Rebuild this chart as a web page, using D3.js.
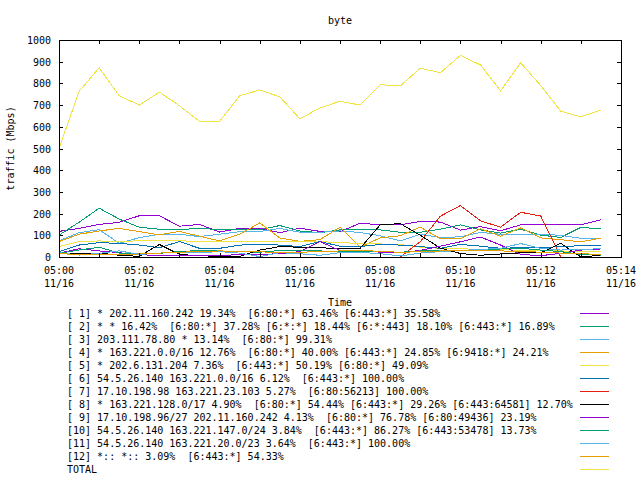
<!DOCTYPE html>
<html>
<head>
<meta charset="utf-8">
<script src="https://cdn.jsdelivr.net/npm/d3@7"></script>
<style>
body { margin: 0; background: #fff; }
text { font-family: "DejaVu Sans Mono", monospace; font-size: 10px; fill: #000; }
</style>
</head>
<body>
<script>
// sample times (every 30 s)
var times = ["05:00:00","05:00:30","05:01:00","05:01:30","05:02:00","05:02:30","05:03:00",
             "05:03:30","05:04:00","05:04:30","05:05:00","05:05:30","05:06:00","05:06:30",
             "05:07:00","05:07:30","05:08:00","05:08:30","05:09:00","05:09:30","05:10:00",
             "05:10:30","05:11:00","05:11:30","05:12:00","05:12:30","05:13:00","05:13:30"];

var s1  = [118,132,150,160,190,190,142,150,115,132,132,112,133,118,116,156,148,148,164,161,124,140,121,148,148,148,148,172];
var s2  = [101,160,225,175,137,128,128,130,128,128,126,145,120,112,125,128,125,114,114,128,148,125,110,128,101,90,137,129];
var s3  = [75,112,126,63,89,105,105,94,105,117,117,132,114,114,120,113,98,74,105,90,93,113,105,105,105,100,86,86];
var s4  = [71,105,120,132,117,102,118,96,74,105,157,88,72,80,137,46,88,98,138,84,84,130,96,134,88,80,70,87];
var s5  = [48,71,74,71,75,78,75,71,71,70,70,71,72,71,66,63,60,58,45,40,38,35,35,30,30,28,25,25];
var s6  = [25,55,66,63,55,43,71,40,40,55,58,55,48,71,50,48,58,55,48,40,58,50,40,43,43,48,52,55];
var s7  = [0,0,0,0,0,0,0,0,0,0,0,0,0,0,0,0,0,0,71,188,237,167,137,206,189,0,0,0];
var s8  = [18,15,18,8,3,58,12,5,4,3,32,48,45,43,38,40,148,154,100,41,16,8,14,19,19,63,0,8];
var s9  = [18,38,28,20,10,8,5,5,8,10,12,15,25,71,30,30,22,20,30,50,70,92,55,12,6,17,32,37];
var s10 = [17,32,45,18,12,17,25,30,28,25,22,30,32,28,25,24,25,22,28,30,32,32,37,40,32,25,12,9];
var s11 = [20,9,17,28,12,18,22,20,25,18,2,20,15,8,20,22,15,5,18,25,30,35,40,62,40,32,35,38];
var s12 = [15,12,10,12,14,18,22,25,28,26,24,20,22,25,28,32,25,22,24,28,30,30,28,26,22,18,15,12];
var total = [500,763,872,743,700,760,697,625,625,743,770,738,637,687,718,700,794,788,870,849,929,885,766,895,790,672,646,677];

var labels = [
  "[ 1] * 202.11.160.242 19.34%  [6:80:*] 63.46% [6:443:*] 35.58%",
  "[ 2] * * 16.42%  [6:80:*] 37.28% [6:*:*] 18.44% [6:*:443] 18.10% [6:443:*] 16.89%",
  "[ 3] 203.111.78.80 * 13.14%  [6:80:*] 99.31%",
  "[ 4] * 163.221.0.0/16 12.76%  [6:80:*] 40.00% [6:443:*] 24.85% [6:9418:*] 24.21%",
  "[ 5] * 202.6.131.204 7.36%  [6:443:*] 50.19% [6:80:*] 49.09%",
  "[ 6] 54.5.26.140 163.221.0.0/16 6.12%  [6:443:*] 100.00%",
  "[ 7] 17.10.198.98 163.221.23.103 5.27%  [6:80:56213] 100.00%",
  "[ 8] * 163.221.128.0/17 4.90%  [6:80:*] 54.44% [6:443:*] 29.26% [6:443:64581] 12.70%",
  "[ 9] 17.10.198.96/27 202.11.160.242 4.13%  [6:80:*] 76.78% [6:80:49436] 23.19%",
  "[10] 54.5.26.140 163.221.147.0/24 3.84%  [6:443:*] 86.27% [6:443:53478] 13.73%",
  "[11] 54.5.26.140 163.221.20.0/23 3.64%  [6:443:*] 100.00%",
  "[12] *:: *:: 3.09%  [6:443:*] 54.33%",
  "TOTAL"
];
var colors = ["#9400d3","#009e73","#56b4e9","#e69f00","#f0e442","#0072b2","#e51e10","#000000",
              "#9400d3","#009e73","#56b4e9","#e69f00","#f0e442"];
var allSeries = [s1, s2, s3, s4, s5, s6, s7, s8, s9, s10, s11, s12, total];

var width = 640, height = 480;
var plot = { left: 59, right: 621, top: 40, bottom: 257 };

var parseTime = d3.timeParse("%Y-%m-%d %H:%M:%S");
var dates = times.map(t => parseTime("2020-11-16 " + t));

var svg = d3.select("body").append("svg")
    .attr("width", width)
    .attr("height", height);

var x = d3.scaleTime()
    .domain([parseTime("2020-11-16 05:00:00"), parseTime("2020-11-16 05:14:00")])
    .range([plot.left, plot.right]);
var y = d3.scaleLinear().domain([0, 1000]).range([plot.bottom, plot.top]);

// data lines, drawn first so the border sits on top
var line = d3.line()
    .x((d, i) => x(dates[i]))
    .y(d => y(d));

svg.append("g").selectAll("path")
    .data(allSeries)
    .enter()
    .append("path")
    .attr("d", d => line(d))
    .attr("fill", "none")
    .attr("stroke", (d, i) => colors[i])
    .attr("stroke-width", 1)
    .attr("shape-rendering", "crispEdges");

// axes with inward ticks on all sides
var minuteTicks = d3.timeMinute.every(1);
svg.append("g")
    .attr("transform", "translate(0," + plot.bottom + ")")
    .call(d3.axisBottom(x).ticks(minuteTicks).tickSize(-4).tickSizeOuter(0).tickFormat(""));
svg.append("g")
    .attr("transform", "translate(0," + plot.top + ")")
    .call(d3.axisTop(x).ticks(minuteTicks).tickSize(-4).tickSizeOuter(0).tickFormat(""));
svg.append("g")
    .attr("transform", "translate(" + plot.left + ",0)")
    .call(d3.axisLeft(y).ticks(10).tickFormat(d3.format("d")).tickSize(-4).tickSizeOuter(0).tickPadding(8));
svg.append("g")
    .attr("transform", "translate(" + plot.right + ",0)")
    .call(d3.axisRight(y).ticks(10).tickSize(-4).tickSizeOuter(0).tickFormat(""));

svg.selectAll(".domain").remove();
svg.selectAll(".tick line").attr("stroke", "#000").attr("shape-rendering", "crispEdges");
svg.selectAll(".tick text").attr("font-family", null).attr("font-size", null)
    .attr("fill", "#000").attr("dy", "0.35em");

// two-line time labels every 2 minutes
var fmtTime = d3.timeFormat("%H:%M"), fmtDay = d3.timeFormat("%m/%d");
var labelTicks = x.ticks(d3.timeMinute.every(2));
var tl = svg.append("g").selectAll("text")
    .data(labelTicks)
    .enter()
    .append("text")
    .attr("text-anchor", "middle")
    .attr("x", d => x(d));
tl.append("tspan").attr("x", d => x(d)).attr("y", 270).attr("dy", "0.35em").text(d => fmtTime(d));
tl.append("tspan").attr("x", d => x(d)).attr("y", 283).attr("dy", "0.35em").text(d => fmtDay(d));

// border
svg.append("rect")
    .attr("x", plot.left).attr("y", plot.top)
    .attr("width", plot.right - plot.left).attr("height", plot.bottom - plot.top)
    .attr("fill", "none").attr("stroke", "#000")
    .attr("shape-rendering", "crispEdges");

// titles
svg.append("text").attr("x", 340).attr("y", 20).attr("dy", "0.35em")
    .attr("text-anchor", "middle").text("byte");
svg.append("text").attr("x", 340).attr("y", 302).attr("dy", "0.35em")
    .attr("text-anchor", "middle").text("Time");
svg.append("text")
    .attr("transform", "translate(10," + ((plot.top + plot.bottom) / 2) + ") rotate(-90)")
    .attr("dy", "0.35em")
    .attr("text-anchor", "middle").text("traffic (Mbps)");

// legend
var legend = svg.append("g").selectAll("g")
    .data(labels)
    .enter()
    .append("g")
    .attr("transform", (d, i) => "translate(0," + (313 + i * 13.05) + ")");
legend.append("text")
    .attr("x", 67)
    .attr("dy", "0.35em")
    .style("white-space", "pre")
    .text(d => d);
legend.append("line")
    .attr("x1", 580).attr("x2", 609)
    .attr("stroke", (d, i) => colors[i])
    .attr("shape-rendering", "crispEdges");
</script>
</body>
</html>
